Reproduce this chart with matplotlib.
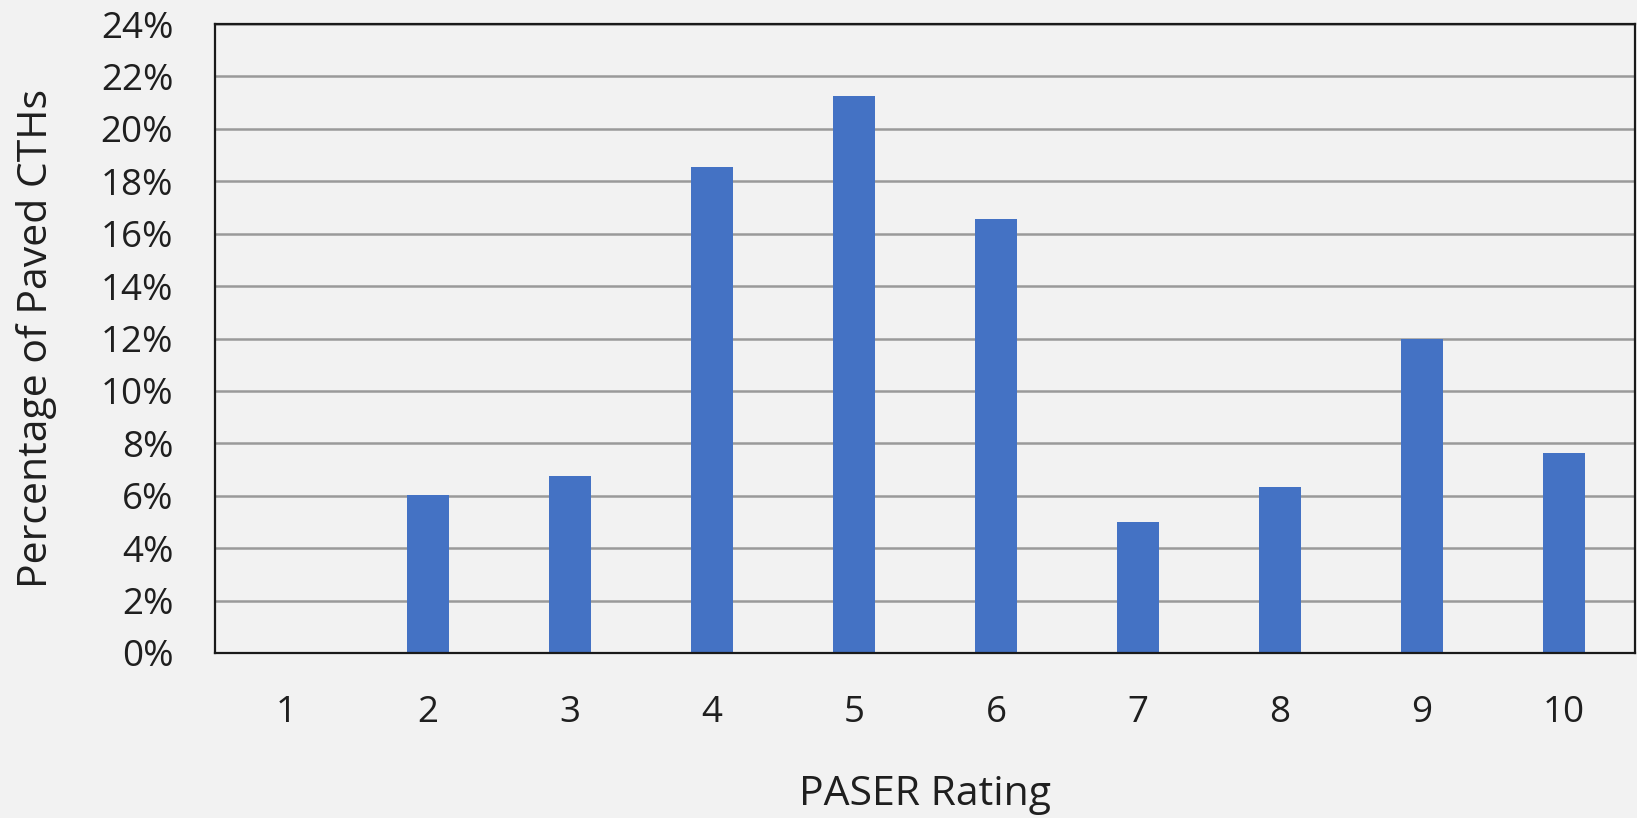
import matplotlib
matplotlib.use("Agg")
import matplotlib.pyplot as plt
from matplotlib.ticker import FuncFormatter, MultipleLocator

ratings = ["1", "2", "3", "4", "5", "6", "7", "8", "9", "10"]
percent = [0.0, 6.04, 6.75, 18.55, 21.26, 16.57, 5.0, 6.32, 12.0, 7.63]

plt.rcParams['font.family'] = ['Open Sans', 'DejaVu Sans']

bg = "#f2f2f2"
txt = "#1f1f1f"
fig = plt.figure(figsize=(16.37, 8.18), dpi=100, facecolor=bg)
ax = fig.add_axes([215/1637, 1 - 653/818, 1420/1637, 629/818])
ax.set_facecolor(bg)

x = list(range(len(ratings)))
ax.bar(x, percent, width=0.3, color="#4472c4", zorder=3)

ax.set_xlim(-0.5, len(ratings) - 0.5)
ax.set_ylim(0, 24)
ax.yaxis.set_major_locator(MultipleLocator(2))
ax.yaxis.set_major_formatter(FuncFormatter(lambda v, p: f"{int(round(v))}%"))
ax.set_xticks(x)
ax.set_xticklabels(ratings)

ax.grid(axis='y', color="#9a9a9a", linewidth=1.8, zorder=1)
ax.set_axisbelow(True)
for s in ax.spines.values():
    s.set_color("#1a1a1a")
    s.set_linewidth(1.6)
    s.set_zorder(4)

ax.tick_params(axis='both', length=0, labelsize=26.5, colors=txt)
ax.tick_params(axis='y', pad=30)
ax.tick_params(axis='x', pad=30)

ax.set_xlabel("PASER Rating", fontsize=29.5, color=txt)
ax.xaxis.label.set_va('center')
ax.xaxis.set_label_coords(0.5, (653 - 795) / 629)
ax.set_ylabel("Percentage of Paved CTHs", fontsize=29.5, color=txt)
ax.yaxis.label.set_va('center')
ax.yaxis.set_label_coords((37 - 215) / 1420, 0.5)

fig.savefig("out.png", dpi=100, facecolor=bg)
